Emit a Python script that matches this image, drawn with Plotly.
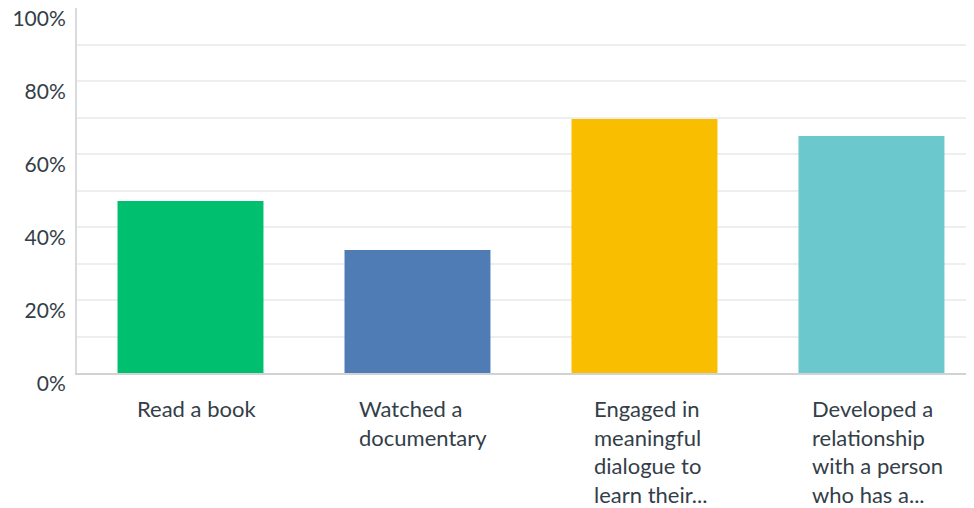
import plotly.graph_objects as go

categories = ["Read a book", "Watched a documentary",
              "Engaged in meaningful dialogue to learn their...",
              "Developed a relationship with a person who has a..."]
labels = ["Read a book", "Watched a<br>documentary",
          "Engaged in<br>meaningful<br>dialogue to<br>learn their...",
          "Developed a<br>relationship<br>with a person<br>who has a..."]
values = [47.1, 33.7, 69.6, 64.9]
colors = ["#00BF6F", "#507CB6", "#F9BE00", "#6BC8CD"]

text_color = "#333E48"
font_family = "Lato"

fig = go.Figure(go.Bar(x=categories, y=values, marker_color=colors,
                       marker_line_width=0, hoverinfo="skip"))

# category labels: left-aligned lines, block roughly centred under each bar
for cat, lab in zip(categories, labels):
    fig.add_annotation(x=cat, y=0, xref="x", yref="y", text=lab, showarrow=False,
                       align="left", xanchor="center", yanchor="top",
                       xshift=6, yshift=-20,
                       font=dict(size=22, color=text_color, family=font_family))

# page body has an 8px margin, so shift the plot area back by that much
fig.update_layout(
    width=974, height=508,
    margin=dict(l=69, r=0, t=0, b=143),
    plot_bgcolor="white", paper_bgcolor="white",
    bargap=0.357, showlegend=False,
    font=dict(family=font_family, color=text_color, size=21),
)
fig.update_xaxes(range=[-0.5, 3.487], showticklabels=False, showgrid=False,
                 showline=True, linecolor="#D0D2D3", linewidth=2, ticks="",
                 automargin=False)
fig.update_yaxes(range=[0, 100], dtick=20, ticksuffix="%", showgrid=True,
                 gridcolor="#EDEEEE", gridwidth=2, zeroline=False,
                 showline=True, linecolor="#D9DADB", linewidth=2,
                 minor=dict(dtick=10, showgrid=True, gridcolor="#EDEEEE", gridwidth=2),
                 ticklabelstandoff=5, ticklabelshift=11, automargin=False,
                 ticklabeloverflow="allow",
                 tickfont=dict(size=21, color=text_color))

fig.write_html("out.html")
